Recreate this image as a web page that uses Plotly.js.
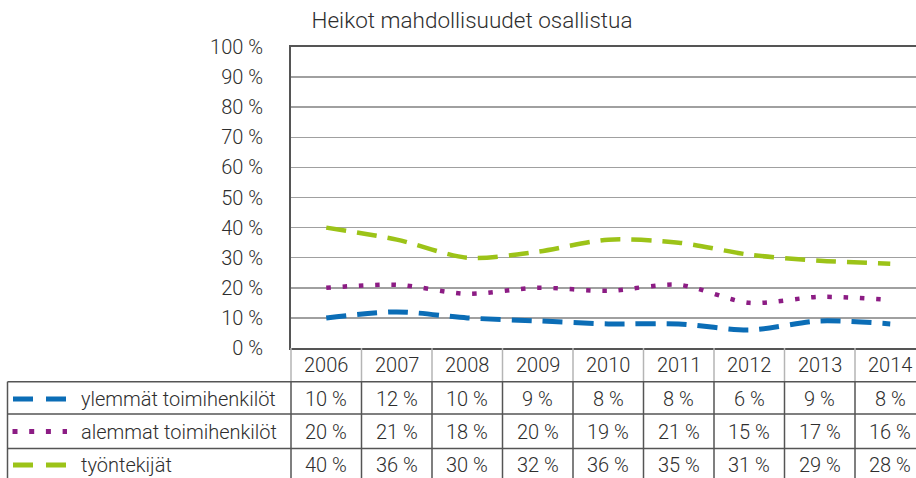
<!DOCTYPE html>
<html>
<head>
<meta charset="utf-8">
<script src="https://cdn.plot.ly/plotly-3.0.1.min.js"></script>
<style>html,body{margin:0;padding:0;background:#fff}#chart{width:916px;height:478px}</style>
</head>
<body>
<div id="chart"></div>
<script>
const years = ['2006','2007','2008','2009','2010','2011','2012','2013','2014'];
const seriesNames = ['ylemmät toimihenkilöt','alemmat toimihenkilöt','työntekijät'];
const ylemmat = [10,12,10,9,8,8,6,9,8];
const alemmat = [20,21,18,20,19,21,15,17,16];
const tyontekijat = [40,36,30,32,36,35,31,29,28];
const yTicks = [0,10,20,30,40,50,60,70,80,90,100];
const title = 'Heikot mahdollisuudet osallistua';

const colors = ['#0B6DB6','#8C1C84','#9CC318'];
const dashes = ['20px,11px','4.5px,11.8px','20px,11px'];
const widths = [5,4.5,4.5];
const allSeries = [ylemmat, alemmat, tyontekijat];

const W = 916, H = 478;
const mL = 291, mR = 0, mT = 47, mB = 130;
const pw = W - mL - mR, ph = H - mT - mB;
const unit = 70.5;
const xr = [-0.5, -0.5 + pw/unit];
const xp = px => (px - mL)/pw;
const yp = py => (H - mB - py)/ph;
const FONT = 'Roboto, "Liberation Sans", Arial, sans-serif';
const TXT = '#2e2e2e';
const FS = 20;

const traces = allSeries.map((vals,i)=>({
  type:'scatter', mode:'lines', x: years.map((y,j)=>j), y: vals, name: seriesNames[i],
  line:{color:colors[i], width:widths[i], dash:dashes[i], shape:'spline', smoothing:0.8},
  hoverinfo:'skip', showlegend:false, cliponaxis:false
}));

const shapes = [];
const annotations = [];
const rowLines = [381.7, 414, 448.5];
const rowCenters = [399, 431.5, 465];
for (let k=0;k<=9;k++){
  const xpos = (k)/ (xr[1]-xr[0]);
  shapes.push({type:'line', xref:'paper', yref:'paper', x0:xpos, x1:xpos, y0:yp(348), y1:yp(rowLines[0]), line:{color:'#b5b5b5', width:1.5}, layer:'above'});
  shapes.push({type:'line', xref:'paper', yref:'paper', x0:xpos, x1:xpos, y0:yp(rowLines[0]), y1:yp(H+5), line:{color:'#555555', width:1.5}, layer:'above'});
}
shapes.push({type:'line', xref:'paper', yref:'paper', x0:xp(7.5), x1:xp(7.5), y0:yp(rowLines[0]), y1:yp(H+5), line:{color:'#555555', width:1.5}, layer:'above'});
rowLines.forEach(py=>{
  shapes.push({type:'line', xref:'paper', yref:'paper', x0:xp(7.5), x1:1, y0:yp(py), y1:yp(py), line:{color:'#555555', width:1.5}, layer:'above'});
});
const symDash = ['20px,13px','5px,11.7px','20px,13px'];
for (let i=0;i<3;i++){
  shapes.push({type:'line', xref:'paper', yref:'paper', x0:xp(i===1?12.5:13), x1:xp(67), y0:yp(rowCenters[i]), y1:yp(rowCenters[i]), line:{color:colors[i], width:5, dash:symDash[i]}, layer:'above'});
  annotations.push({xref:'paper', yref:'paper', x:xp(79), y:yp(rowCenters[i]), text:seriesNames[i], showarrow:false, xanchor:'left', yanchor:'middle', font:{family:FONT, size:FS, color:TXT, weight:300}});
}
years.forEach((y,j)=>{
  annotations.push({xref:'x', yref:'paper', x:j, y:yp(364.5), text:y, showarrow:false, xanchor:'center', yanchor:'middle', font:{family:FONT, size:FS, color:TXT, weight:300}});
});
allSeries.forEach((vals,i)=>{
  vals.forEach((v,j)=>{
    annotations.push({xref:'x', yref:'paper', x:j, y:yp(rowCenters[i]), text:v+' %', showarrow:false, xanchor:'center', yanchor:'middle', font:{family:FONT, size:FS, color:TXT, weight:300}});
  });
});

const layout = {
  width:W, height:H, margin:{l:mL, r:mR, t:mT, b:mB, pad:0},
  paper_bgcolor:'#fff', plot_bgcolor:'#fff',
  title:{text:title, x:472/W, xref:'container', xanchor:'center', y:1-20/H, yref:'container', yanchor:'middle', font:{family:FONT, size:22.5, color:TXT, weight:300}},
  xaxis:{type:'linear', range:xr, showticklabels:false, showgrid:false, zeroline:false, showline:true, linecolor:'#555', linewidth:2, mirror:true, ticks:'', fixedrange:true},
  yaxis:{range:[0,100], tickvals:yTicks, ticktext:yTicks.map(v=>v+' %'), showgrid:true, gridcolor:'#a0a0a0', gridwidth:1.5, zeroline:false, showline:true, linecolor:'#555', linewidth:2, ticks:'', ticklabelstandoff:22, tickfont:{family:FONT, size:FS, color:TXT, weight:300}, fixedrange:true},
  shapes:shapes, annotations:annotations, showlegend:false
};
Plotly.newPlot('chart', traces, layout, {staticPlot:true, displayModeBar:false});
</script>
</body>
</html>
